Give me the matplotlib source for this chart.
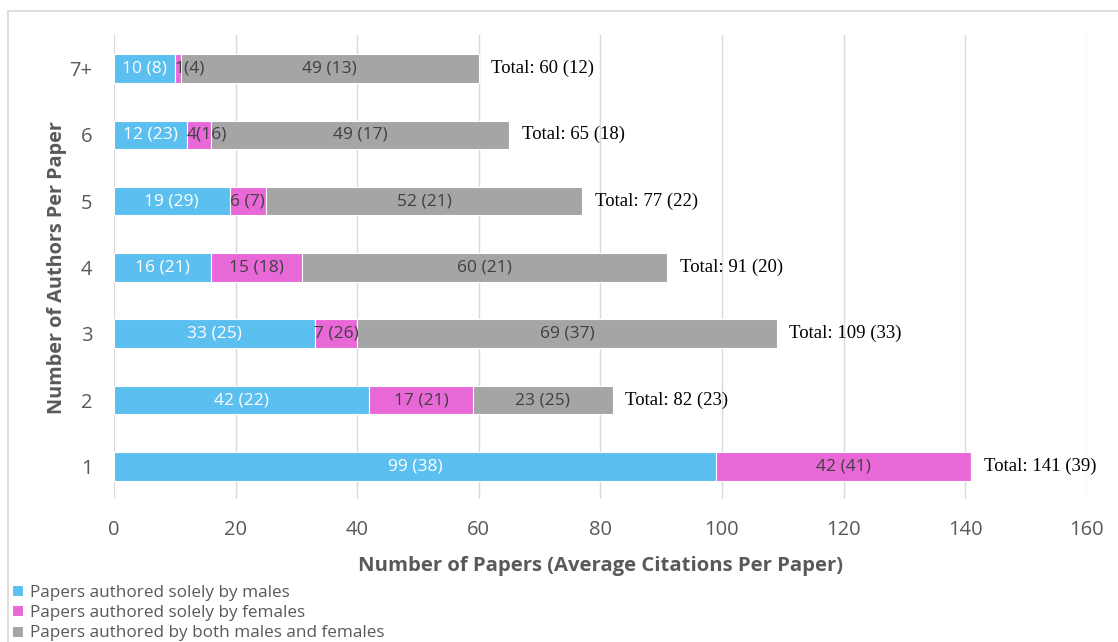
import numpy as np
import matplotlib.pyplot as plt
from matplotlib.patches import Rectangle

# ------------------------------------------------------------
# 数据：每篇论文作者数 → 论文数量（平均引用数）
# ------------------------------------------------------------
categories = ["1", "2", "3", "4", "5", "6", "7+"]
male_papers = [99, 42, 33, 16, 19, 12, 10]
male_cites = [38, 22, 25, 21, 29, 23, 8]
female_papers = [42, 17, 7, 15, 6, 4, 1]
female_cites = [41, 21, 26, 18, 7, 16, 4]
both_papers = [0, 23, 69, 60, 52, 49, 49]
both_cites = [0, 25, 37, 21, 21, 17, 13]
total_papers = [141, 82, 109, 91, 77, 65, 60]
total_cites = [39, 23, 33, 20, 22, 18, 12]

series_names = [
    "Papers authored solely by males",
    "Papers authored solely by females",
    "Papers authored by both males and females",
]
x_ticks = [0, 20, 40, 60, 80, 100, 120, 140, 160]

# 颜色
BLUE = "#5BBFF0"
PINK = "#E968D8"
GRAY = "#A5A5A5"
TEXT = "#595959"
DARK = "#404040"

plt.rcParams["font.family"] = ["Open Sans", "DejaVu Sans"]

fig = plt.figure(figsize=(11.18, 6.42), dpi=100)
ax = fig.add_axes([0.102, 0.222, 0.870, 0.723])

y = np.arange(len(categories))
h = 0.43

male = np.array(male_papers)
female = np.array(female_papers)
both = np.array(both_papers)

b1 = ax.barh(y, male, h, color=BLUE, edgecolor="white", linewidth=0.8,
             label=series_names[0], zorder=3)
b2 = ax.barh(y, female, h, left=male, color=PINK, edgecolor="white",
             linewidth=0.8, label=series_names[1], zorder=3)
b3 = ax.barh(y, both, h, left=male + female, color=GRAY, edgecolor="white",
             linewidth=0.8, label=series_names[2], zorder=3)

# 段内标签（太窄的段：标签从段起点往右写）
def seg_labels(lefts, widths, cites, color, compact=False):
    for i, (l, w, c) in enumerate(zip(lefts, widths, cites)):
        if w <= 0:
            continue
        if compact and w <= 4:
            ax.text(l, y[i], f"{w}({c})", ha="left", va="center",
                    fontsize=12.5, color=color, zorder=4)
        else:
            ax.text(l + w / 2, y[i], f"{w} ({c})", ha="center", va="center",
                    fontsize=12.5, color=color, zorder=4)

seg_labels(np.zeros(len(y)), male, male_cites, "white")
seg_labels(male, female, female_cites, DARK, compact=True)
seg_labels(male + female, both, both_cites, DARK)

# 总计标签
for i, (t, c) in enumerate(zip(total_papers, total_cites)):
    ax.annotate(f"Total: {t} ({c})", xy=(t, y[i]), xytext=(9, 0),
                textcoords="offset points", ha="left", va="center",
                fontsize=13.5, family=["Liberation Serif", "DejaVu Serif"],
                color="black")

ax.set_xlim(0, 160)
ax.set_ylim(-0.5, len(categories) - 0.5)
ax.set_xticks(x_ticks)
ax.set_yticks(y)
ax.set_yticklabels(categories)
ax.tick_params(axis="both", length=0, labelsize=14.5, labelcolor=TEXT)
ax.tick_params(axis="x", pad=14.5)
ax.tick_params(axis="y", pad=15.5)
ax.grid(axis="x", color="#D9D9D9", linewidth=1, zorder=0)
for s in ax.spines.values():
    s.set_visible(False)

ax.set_xlabel("Number of Papers (Average Citations Per Paper)", fontsize=14.6,
              fontweight="bold", color=TEXT, labelpad=12)
ax.set_ylabel("Number of Authors Per Paper", fontsize=14.3, fontweight="bold",
              color=TEXT, labelpad=2)

# 图例（左下角，纵向排列）
fig.legend(handles=[b1, b2, b3], labels=series_names, loc="upper left",
           bbox_to_anchor=(0.005, 0.1), frameon=False, fontsize=12.3,
           labelcolor=TEXT, handlelength=0.6, handleheight=0.6,
           handletextpad=0.45, labelspacing=0.25, borderaxespad=0)

# 图表外框
fig.patches.append(Rectangle((8 / 1118, -0.2), 1.2, 1 - 11 / 642 + 0.2,
                             transform=fig.transFigure, fill=False,
                             edgecolor="#D9D9D9", linewidth=1.2, zorder=0))

fig.savefig("out.png", dpi=100)
plt.close(fig)
